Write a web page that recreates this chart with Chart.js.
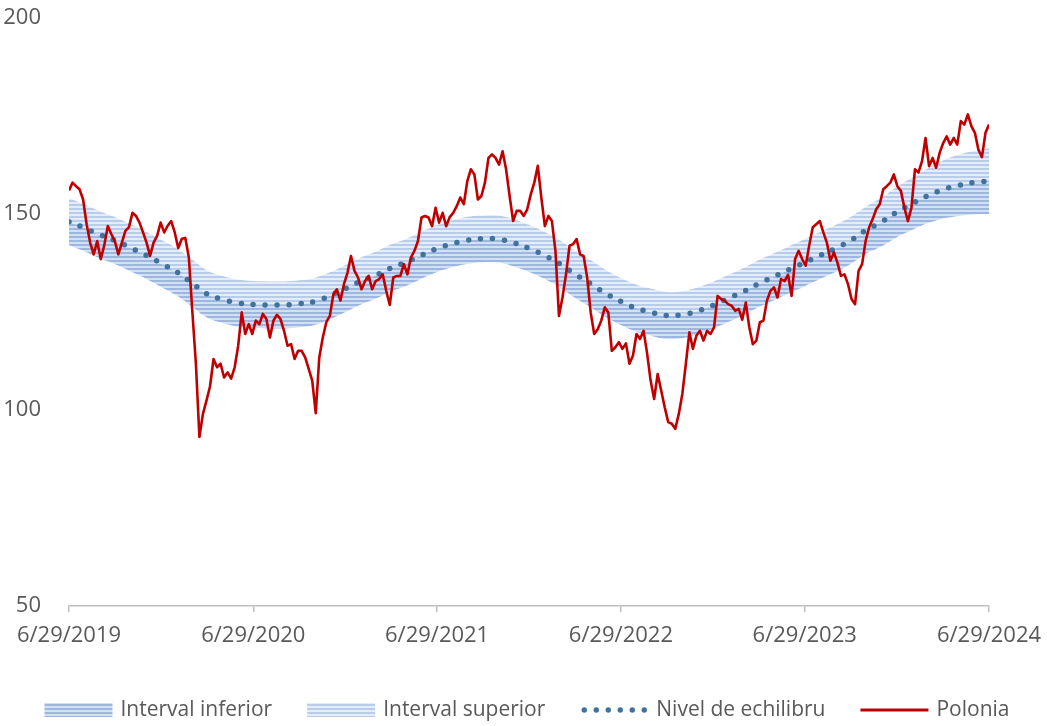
<!DOCTYPE html>
<html>
<head>
<meta charset="utf-8">
<script src="https://cdn.jsdelivr.net/npm/chart.js@4.4.1/dist/chart.umd.min.js"></script>
<style>
  html, body { margin: 0; padding: 0; background: #fff; }
  canvas { display: block; }
</style>
</head>
<body>
<canvas id="chart" width="1047" height="726"></canvas>
<script>
// x axis: one tick per year
const tickLabels = ['6/29/2019', '6/29/2020', '6/29/2021', '6/29/2022', '6/29/2023', '6/29/2024'];

// Polonia, weekly from 6/29/2019
const poloniaStart = '2019-06-29';
const poloniaValues = [
  156.0, 158.0, 157.1, 156.3, 153.7, 147.4, 142.7, 139.7, 143.1, 138.5,
  142.0, 146.9, 144.9, 143.1, 139.7, 142.7, 145.7, 146.6, 150.3, 149.5,
  147.8, 145.3, 142.7, 139.3, 142.7, 144.4, 147.8, 145.3, 147.0, 148.2,
  145.3, 141.3, 143.7, 143.9, 138.9, 125.0, 111.8, 93.1, 99.0, 102.4,
  106.0, 113.0, 110.9, 111.8, 108.3, 109.6, 108.0, 110.9, 116.4, 124.9,
  119.4, 121.9, 119.4, 122.8, 121.9, 124.5, 123.2, 118.5, 122.8, 124.3,
  123.2, 120.2, 116.4, 116.8, 113.0, 115.1, 115.1, 113.4, 110.5, 107.5,
  99.2, 113.4, 118.5, 122.4, 124.0, 129.5, 130.8, 127.9, 132.1, 135.0,
  139.3, 135.5, 133.8, 130.8, 132.9, 134.2, 130.8, 132.9, 133.4, 134.6,
  130.4, 126.8, 133.8, 134.2, 134.2, 137.2, 134.6, 138.9, 140.6, 143.1,
  149.1, 149.5, 149.1, 146.9, 151.6, 147.8, 150.3, 146.9, 149.2, 150.3,
  152.0, 154.2, 152.5, 158.4, 161.4, 160.1, 153.7, 154.6, 158.0, 164.3,
  165.2, 164.3, 162.6, 166.0, 161.4, 154.6, 148.2, 150.8, 150.8, 149.5,
  151.2, 155.0, 158.0, 162.3, 154.2, 146.9, 149.5, 148.2, 140.6, 124.0,
  128.7, 134.6, 141.9, 142.3, 143.6, 139.7, 139.3, 133.8, 124.9, 119.4,
  120.6, 122.8, 126.2, 124.9, 115.1, 116.0, 117.3, 115.6, 117.0, 111.8,
  113.9, 119.4, 118.1, 120.2, 114.5, 107.5, 102.8, 109.2, 105.0, 100.7,
  96.9, 96.5, 95.2, 99.0, 104.1, 111.8, 119.8, 115.6, 119.0, 120.2,
  117.7, 120.2, 119.4, 121.1, 129.1, 128.3, 127.9, 127.0, 126.6, 125.3,
  125.8, 123.0, 127.4, 121.1, 116.8, 117.7, 122.4, 122.8, 127.9, 130.4,
  131.3, 128.7, 133.4, 132.9, 134.5, 129.1, 138.5, 140.6, 138.5, 136.8,
  142.0, 146.6, 147.4, 148.2, 145.3, 142.7, 138.1, 140.2, 137.6, 134.2,
  134.6, 132.1, 128.3, 127.0, 135.5, 137.2, 143.1, 146.6, 148.7, 151.2,
  152.5, 156.3, 157.1, 158.0, 160.1, 157.1, 155.9, 151.6, 148.2, 151.6,
  161.4, 160.6, 163.5, 169.4, 162.2, 164.3, 161.8, 165.6, 168.1, 169.8,
  167.7, 169.4, 167.7, 173.7, 172.8, 175.4, 172.4, 170.7, 166.4, 164.5,
  170.7, 172.8
];

// equilibrium level and its band, monthly from 6/29/2019
const echilibru = [
  148.0, 146.5, 144.7, 143.2, 141.4, 139.5, 137.4, 135.2, 132.3, 129.6,
  128.2, 127.3, 126.9, 126.8, 126.8, 127.1, 127.7, 129.2, 131.0, 132.9,
  134.5, 136.2, 137.7, 139.5, 141.2, 142.4, 143.3, 143.7, 143.6, 142.6,
  141.2, 139.4, 137.2, 134.7, 132.3, 129.8, 127.7, 126.0, 124.9, 124.1,
  124.3, 125.3, 126.7, 128.5, 130.3, 132.2, 134.0, 135.8, 137.6, 139.4,
  141.2, 143.3, 145.9, 148.0, 150.5, 152.7, 154.7, 156.2, 157.3, 158.0,
  158.4
];
const limitaInferioara = [
  142.0, 140.5, 138.7, 137.2, 135.4, 133.5, 131.4, 129.2, 126.3, 123.6,
  122.2, 121.3, 120.9, 120.8, 120.8, 121.1, 121.7, 123.2, 125.0, 126.9,
  128.5, 130.2, 131.7, 133.5, 135.2, 136.4, 137.3, 137.7, 137.6, 136.6,
  135.2, 133.4, 131.2, 128.7, 126.3, 123.8, 121.7, 120.0, 118.9, 118.1,
  118.3, 119.3, 120.7, 122.5, 124.3, 126.2, 128.0, 129.8, 131.6, 133.4,
  135.2, 137.3, 139.9, 141.8, 144.1, 146.0, 147.7, 148.8, 149.5, 149.9,
  150.0
];
const limitaSuperioara = [
  154.0, 152.5, 150.7, 149.2, 147.4, 145.5, 143.4, 141.2, 138.3, 135.6,
  134.2, 133.3, 132.9, 132.8, 132.8, 133.1, 133.7, 135.2, 137.0, 138.9,
  140.5, 142.2, 143.7, 145.5, 147.2, 148.4, 149.3, 149.7, 149.6, 148.6,
  147.2, 145.4, 143.2, 140.7, 138.3, 135.8, 133.7, 132.0, 130.9, 130.1,
  130.3, 131.3, 132.7, 134.5, 136.3, 138.2, 140.0, 141.8, 143.6, 145.4,
  147.2, 149.3, 151.9, 154.2, 156.9, 159.4, 161.7, 163.6, 165.1, 166.1,
  166.8
];

const DAY = 24 * 3600 * 1000;
const tickDates = tickLabels.map(s => {
  const [m, d, y] = s.split('/').map(Number);
  return Date.UTC(y, m - 1, d);
});
const startMs = Date.parse(poloniaStart);
const poloniaPts = poloniaValues.map((v, i) => ({ x: startMs + i * 7 * DAY, y: v }));
const monthly = arr => arr.map((v, i) => ({ x: Date.UTC(2019, 5 + i, 29), y: v }));

function stripes(dark, light) {
  const c = document.createElement('canvas');
  c.width = 8; c.height = 4;
  const g = c.getContext('2d');
  g.fillStyle = light; g.fillRect(0, 0, 8, 4);
  g.fillStyle = dark; g.fillRect(0, 0, 8, 2);
  return g.createPattern(c, 'repeat');
}
const patInf = stripes('#9DB7E1', '#D3DFF2');
const patSup = stripes('#B9CCEB', '#E4ECF8');

const textColor = '#595959';
const FONT = '"Open Sans", "Noto Sans", sans-serif';

const legendItems = [
  { label: 'Interval inferior', kind: 'box', fill: patInf },
  { label: 'Interval superior', kind: 'box', fill: patSup },
  { label: 'Nivel de echilibru', kind: 'dots', color: '#41719C' },
  { label: 'Polonia', kind: 'line', color: '#C00000' }
];

const bottomLegend = {
  id: 'bottomLegend',
  afterDraw(chart) {
    const ctx = chart.ctx;
    ctx.save();
    ctx.font = '21px ' + FONT;
    ctx.textBaseline = 'middle';
    const sw = 68, gap = 8, itemGap = 35, y = 710;
    const widths = legendItems.map(it => sw + gap + ctx.measureText(it.label).width);
    const total = widths.reduce((a, b) => a + b, 0) + itemGap * (legendItems.length - 1);
    let x = 527 - total / 2;
    legendItems.forEach((it, i) => {
      if (it.kind === 'box') {
        ctx.fillStyle = it.fill;
        ctx.fillRect(x, y - 7, sw, 14);
      } else if (it.kind === 'dots') {
        ctx.fillStyle = it.color;
        for (let k = 0; k < 6; k++) {
          ctx.beginPath();
          ctx.arc(x + 4 + k * 12, y, 2.7, 0, Math.PI * 2);
          ctx.fill();
        }
      } else {
        ctx.strokeStyle = it.color;
        ctx.lineWidth = 3;
        ctx.beginPath();
        ctx.moveTo(x, y);
        ctx.lineTo(x + sw, y);
        ctx.stroke();
      }
      ctx.fillStyle = textColor;
      ctx.fillText(it.label, x + sw + gap, y);
      x += widths[i] + itemGap;
    });
    ctx.restore();
  }
};

// let the layout padding alone decide where the plot area sits
function noScalePadding(s) {
  s.paddingTop = 0;
  s.paddingBottom = 0;
  s.paddingLeft = 0;
  s.paddingRight = 0;
}

new Chart(document.getElementById('chart').getContext('2d'), {
  type: 'line',
  data: {
    datasets: [
      {
        label: 'lower',
        data: monthly(limitaInferioara),
        borderWidth: 0,
        pointRadius: 0,
        tension: 0.4,
        fill: false,
        order: 4
      },
      {
        label: 'Interval inferior',
        data: monthly(echilibru),
        borderWidth: 0,
        pointRadius: 0,
        tension: 0.4,
        backgroundColor: patInf,
        fill: '-1',
        order: 3
      },
      {
        label: 'Interval superior',
        data: monthly(limitaSuperioara),
        borderWidth: 0,
        pointRadius: 0,
        tension: 0.4,
        backgroundColor: patSup,
        fill: '-1',
        order: 2
      },
      {
        label: 'Nivel de echilibru',
        data: monthly(echilibru),
        borderColor: '#41719C',
        borderWidth: 5.5,
        borderDash: [0, 12],
        borderCapStyle: 'round',
        pointRadius: 0,
        tension: 0.4,
        fill: false,
        order: 1
      },
      {
        label: 'Polonia',
        data: poloniaPts,
        borderColor: '#C00000',
        borderWidth: 2.6,
        borderJoinStyle: 'round',
        pointRadius: 0,
        tension: 0,
        fill: false,
        order: 0
      }
    ]
  },
  options: {
    responsive: false,
    animation: false,
    devicePixelRatio: 1,
    layout: { padding: { left: 0, right: 58, top: 18, bottom: 70 } },
    scales: {
      x: {
        type: 'linear',
        min: tickDates[0],
        max: tickDates[tickDates.length - 1],
        afterBuildTicks: s => { s.ticks = tickDates.map(v => ({ value: v })); },
        afterFit: s => { s.height = 50; noScalePadding(s); },
        ticks: {
          autoSkip: false,
          maxRotation: 0,
          padding: 11,
          color: textColor,
          font: { family: FONT, size: 22 },
          callback: v => tickLabels[tickDates.indexOf(v)]
        },
        grid: {
          drawOnChartArea: false,
          drawTicks: true,
          tickLength: 6,
          color: '#BFBFBF',
          lineWidth: 1.5
        },
        border: { color: '#BFBFBF', width: 1.5 }
      },
      y: {
        min: 50,
        max: 200,
        afterFit: s => { s.width = 69; noScalePadding(s); },
        ticks: {
          stepSize: 50,
          padding: 20,
          color: textColor,
          font: { family: FONT, size: 22 }
        },
        grid: { display: false },
        border: { display: false }
      }
    },
    plugins: {
      legend: { display: false },
      tooltip: { enabled: false }
    }
  },
  plugins: [bottomLegend]
});
</script>
</body>
</html>
